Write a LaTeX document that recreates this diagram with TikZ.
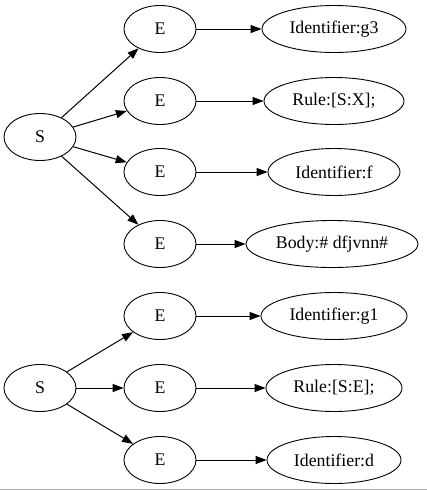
\documentclass[tikz,border=0pt]{standalone}
\usepackage{fontspec}
\setmainfont{Liberation Serif}
\usetikzlibrary{shapes.geometric,arrows.meta}
\begin{document}
\begin{tikzpicture}[x=1pt,y=-1pt,
  nd/.style={draw,ellipse,line width=0.9pt,inner sep=0pt,minimum height=47pt,font=\fontsize{17.8}{19}\selectfont},
  en/.style={nd,minimum width=72pt},
  edge/.style={draw,line width=1pt,-{Triangle[length=11pt,width=8pt]}}]
\useasboundingbox (0,0) rectangle (427,491);
\draw[gray!60,line width=1pt] (0,489.5) -- (427,489.5);
% top tree
\node[nd,minimum width=72pt] (s1) at (40,137) {S};
\node[en] (e1) at (160,29) {E};
\node[en] (e2) at (160,101) {E};
\node[en] (e3) at (160,172) {E};
\node[en] (e4) at (160,244) {E};
\node[nd,minimum width=144pt] (r1) at (334,29) {Identifier:g3};
\node[nd,minimum width=140pt] (r2) at (334,101) {Rule:[S:X];};
\node[nd,minimum width=132pt] (r3) at (334,172) {Identifier:f};
\node[nd,minimum width=172pt] (r4) at (332,244) {Body:\# dfjvnn\#};
\foreach \i in {1,...,4} {\path[edge] (s1) -- (e\i); \path[edge] (e\i) -- (r\i);}
% bottom tree
\node[nd,minimum width=72pt] (s2) at (40,388) {S};
\node[en] (f1) at (160,316) {E};
\node[en] (f2) at (160,388) {E};
\node[en] (f3) at (160,460) {E};
\node[nd,minimum width=146pt] (q1) at (334,316) {Identifier:g1};
\node[nd,minimum width=136pt] (q2) at (334,388) {Rule:[S:E];};
\node[nd,minimum width=134pt] (q3) at (334,460) {Identifier:d};
\foreach \i in {1,...,3} {\path[edge] (s2) -- (f\i); \path[edge] (f\i) -- (q\i);}
\end{tikzpicture}
\end{document}
